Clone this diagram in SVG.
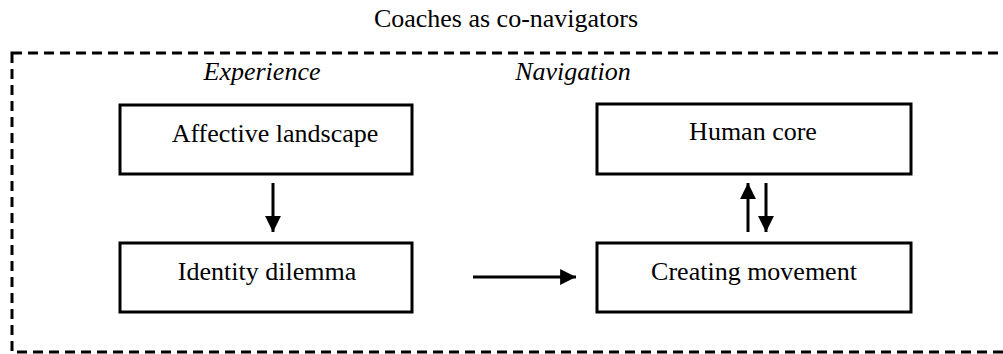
<svg xmlns="http://www.w3.org/2000/svg" width="1003" height="354" viewBox="0 0 1003 354">
<style>
text{font-family:"Liberation Serif","Times New Roman",serif;font-size:26px;fill:#000}
.it{font-style:italic}
.box{fill:#fff;stroke:#000;stroke-width:3}
.ln{stroke:#000;stroke-width:3;fill:none}
</style>
<defs>
<marker id="ah" viewBox="0 0 10 10" refX="10" refY="5" markerWidth="5.3" markerHeight="5.3" markerUnits="strokeWidth" orient="auto">
<path d="M0,0 L10,5 L0,10 z" fill="#000"/>
</marker>
</defs>
<rect width="1003" height="354" fill="#fff"/>
<text x="506" y="27" text-anchor="middle">Coaches as co-navigators</text>
<rect x="12" y="53" width="1010" height="299" fill="none" stroke="#000" stroke-width="3" stroke-dasharray="10,6"/>
<text class="it" x="262" y="80" text-anchor="middle">Experience</text>
<text class="it" x="573" y="80" text-anchor="middle">Navigation</text>
<g id="affective"><rect class="box" x="120" y="105" width="292" height="69"/><text x="275" y="142" text-anchor="middle">Affective landscape</text></g>
<g id="identity"><rect class="box" x="120" y="243" width="292" height="69"/><text x="267" y="280" text-anchor="middle">Identity dilemma</text></g>
<g id="human"><rect class="box" x="597" y="104" width="314" height="70"/><text x="753" y="140" text-anchor="middle">Human core</text></g>
<g id="creating"><rect class="box" x="597" y="243" width="314" height="69"/><text x="754" y="280" text-anchor="middle">Creating movement</text></g>
<g id="connectors">
<line class="ln" x1="273" y1="183" x2="273" y2="232" marker-end="url(#ah)"/>
<line class="ln" x1="473" y1="277" x2="576" y2="277" marker-end="url(#ah)"/>
<line class="ln" x1="748" y1="232" x2="748" y2="183" marker-end="url(#ah)"/>
<line class="ln" x1="766" y1="183" x2="766" y2="232" marker-end="url(#ah)"/>
</g>
</svg>
